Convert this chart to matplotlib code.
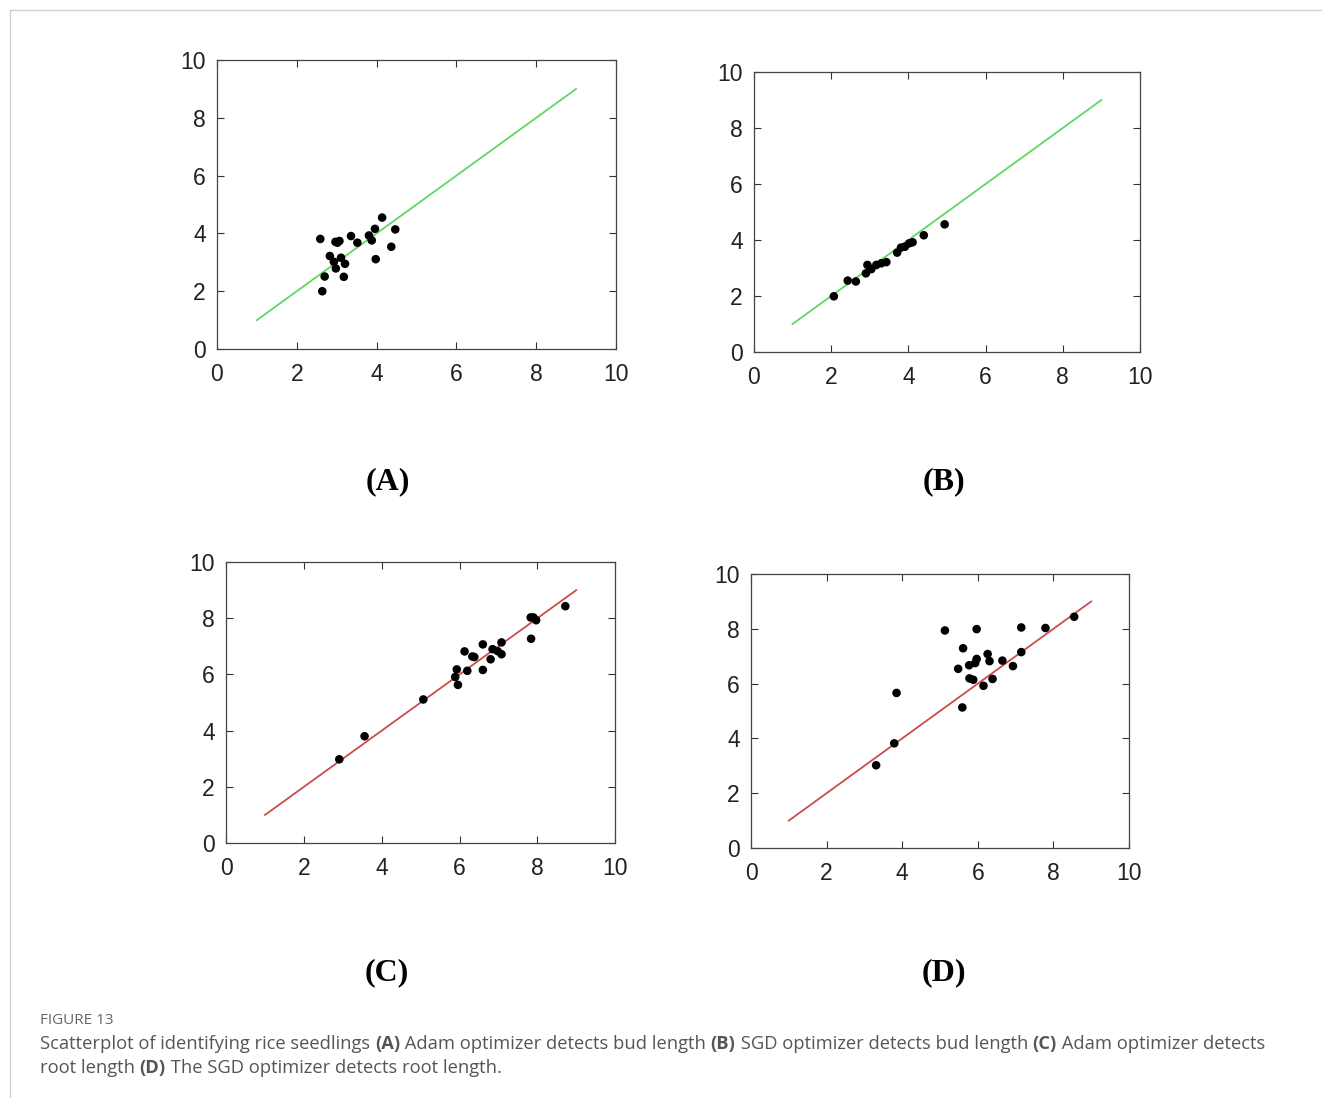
#!/usr/bin/env python3
"""Scatterplots of rice seedling detection (bud / root length, Adam vs SGD)."""

import matplotlib
import matplotlib.pyplot as plt
from matplotlib.lines import Line2D

matplotlib.use("Agg")

# --- data (true vs predicted lengths) ---
a_x = [2.59, 2.97, 3.07, 3.02, 3.36, 3.52, 3.81, 3.88, 3.96, 4.14, 4.47,
       4.37, 3.98, 2.83, 2.93, 3.11, 3.21, 2.98, 2.70, 3.18, 2.64]
a_y = [3.81, 3.71, 3.74, 3.68, 3.91, 3.68, 3.93, 3.76, 4.16, 4.55, 4.14,
       3.54, 3.11, 3.22, 3.02, 3.16, 2.95, 2.79, 2.51, 2.50, 2.00]

b_x = [2.07, 2.43, 2.64, 2.94, 2.90, 3.04, 3.17, 3.30, 3.43, 3.71, 3.81,
       3.91, 4.02, 4.11, 4.40, 4.94]
b_y = [1.99, 2.55, 2.52, 3.11, 2.81, 2.96, 3.11, 3.17, 3.21, 3.55, 3.73,
       3.76, 3.88, 3.92, 4.17, 4.56]

c_x = [2.91, 3.56, 5.07, 5.96, 5.89, 5.93, 6.20, 6.13, 6.33, 6.38, 6.60,
       6.60, 6.80, 6.85, 6.98, 7.08, 7.08, 7.84, 7.83, 7.90, 7.97, 8.72]
c_y = [2.98, 3.80, 5.11, 5.63, 5.91, 6.18, 6.13, 6.82, 6.64, 6.62, 7.07,
       6.16, 6.54, 6.90, 6.83, 6.72, 7.14, 7.27, 8.03, 8.03, 7.93, 8.43]

d_x = [3.31, 3.79, 3.85, 5.13, 5.97, 7.15, 7.79, 8.55, 5.61, 6.26, 6.31,
       5.97, 5.93, 5.77, 5.48, 6.65, 6.93, 7.15, 5.78, 5.88, 6.39, 6.15, 5.59]
d_y = [3.02, 3.82, 5.66, 7.94, 7.99, 8.05, 8.03, 8.44, 7.29, 7.08, 6.82,
       6.90, 6.75, 6.67, 6.54, 6.84, 6.64, 7.15, 6.19, 6.14, 6.17, 5.92, 5.13]

ref_line = [1, 9]
ticks = [0, 2, 4, 6, 8, 10]

panels = [
    # label, x, y, line colour, axes rect, label position
    ("(A)", a_x, a_y, "#5fd85f", [0.1641, 0.6821, 0.3018, 0.2632], (0.2935, 0.561)),
    ("(B)", b_x, b_y, "#5fd85f", [0.5703, 0.6794, 0.2920, 0.2550], (0.7141, 0.561)),
    ("(C)", c_x, c_y, "#cc4b4b", [0.1710, 0.2322, 0.2943, 0.2559], (0.2927, 0.114)),
    ("(D)", d_x, d_y, "#cc4b4b", [0.5681, 0.2277, 0.2859, 0.2495], (0.7141, 0.114)),
]

fig = plt.figure(figsize=(13.22, 10.98), dpi=100)

for label, xs, ys, lc, rect, lpos in panels:
    ax = fig.add_axes(rect)
    ax.plot(ref_line, ref_line, color=lc, linewidth=1.3)
    ax.scatter(xs, ys, s=38, color="black", edgecolors="none", zorder=3)
    ax.set_xlim(0, 10)
    ax.set_ylim(0, 10)
    ax.set_xticks(ticks)
    ax.set_yticks(ticks)
    ax.tick_params(direction="in", length=5, width=0.8, top=True, right=True,
                   labelsize=16.5, colors="#333333", labelcolor="#222222")
    ax.tick_params(axis="x", pad=10)
    ax.tick_params(axis="y", pad=8)
    for lbl in ax.get_xticklabels() + ax.get_yticklabels():
        lbl.set_fontfamily("Liberation Sans")
    for sp in ax.spines.values():
        sp.set_color("#444444")
        sp.set_linewidth(0.9)
    fig.text(lpos[0], lpos[1], label, ha="center", va="center", fontsize=23,
             fontweight="bold", family="Liberation Serif")

# page frame (light grey border top/left)
fig.add_artist(Line2D([10 / 1322, 1.0], [1 - 10 / 1098] * 2, color="#d0d0d0", lw=1))
fig.add_artist(Line2D([10 / 1322] * 2, [1 - 10 / 1098, 0.0], color="#d0d0d0", lw=1))

# caption
fig.text(40 / 1322, 1 - 1020 / 1098, "FIGURE 13", fontsize=11, color="#666666",
         family="Open Sans", va="center")

caption_lines = [
    [("Scatterplot of identifying rice seedlings ", False), ("(A)", True),
     (" Adam optimizer detects bud length ", False), ("(B)", True),
     (" SGD optimizer detects bud length ", False), ("(C)", True),
     (" Adam optimizer detects", False)],
    [("root length ", False), ("(D)", True),
     (" The SGD optimizer detects root length.", False)],
]
renderer = fig.canvas.get_renderer()
for i, line in enumerate(caption_lines):
    x = 40 / 1322
    y = 1 - (1044 + 24 * i) / 1098
    for chunk, bold in line:
        t = fig.text(x, y, chunk, fontsize=13.2, color="#555555", family="Open Sans",
                     fontweight="bold" if bold else "normal", va="center")
        bb = t.get_window_extent(renderer=renderer)
        x += bb.width / fig.bbox.width

fig.savefig("out.png", dpi=100)
plt.close(fig)
